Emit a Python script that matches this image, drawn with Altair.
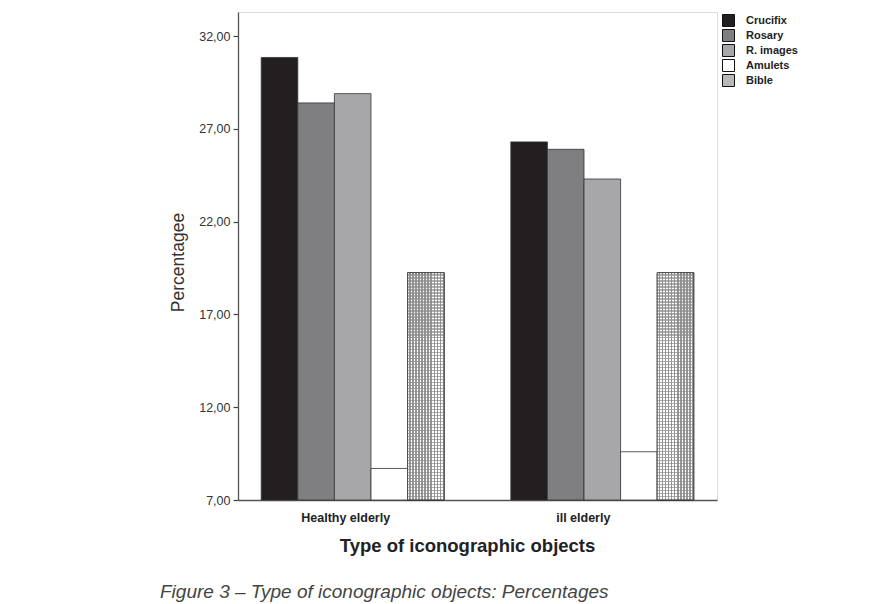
import altair as alt
import pandas as pd

groups = ["Healthy elderly", "ill elderly"]
objects = ["Crucifix", "Rosary", "R. images", "Amulets", "Bible"]
healthy = [30.85, 28.4, 28.9, 8.7, 19.25]
ill = [26.3, 25.9, 24.3, 9.6, 19.25]
y_ticks = [7, 12, 17, 22, 27, 32]

rows = []
for g, vals in zip(groups, [healthy, ill]):
    for o, v in zip(objects, vals):
        rows.append({"group": g, "object": o, "value": v})
df = pd.DataFrame(rows)

colors = ["#231f20", "#7f7f81", "#a7a7a9", "#ffffff", "#b8b8b8"]


def stripes(n, a, b, horizontal):
    stops = []
    for i in range(n):
        o0 = i / n
        o1 = (i + 0.5) / n
        o2 = (i + 1) / n
        stops += [
            {"offset": o0, "color": a},
            {"offset": o1, "color": a},
            {"offset": o1, "color": b},
            {"offset": o2, "color": b},
        ]
    g = {"gradient": "linear", "stops": stops}
    if horizontal:
        g.update({"x1": 0, "x2": 1, "y1": 0, "y2": 0})
    else:
        g.update({"x1": 0, "x2": 0, "y1": 0, "y2": 1})
    return g


x_enc = alt.X(
    "group:N",
    sort=groups,
    scale=alt.Scale(paddingInner=0.267, paddingOuter=0.093),
    axis=alt.Axis(
        title="Type  of iconographic objects",
        labelAngle=0,
        labelFont="Liberation Sans",
        labelFontSize=12.5,
        labelFontWeight="bold",
        labelColor="#222",
        labelPadding=11,
        labelOffset={"condition": {"test": "datum.value == 'ill elderly'", "value": -19}, "value": -7},
        ticks=False,
        domainColor="#555",
        domainWidth=1.3,
        titleFont="Liberation Sans",
        titleFontSize=18.5,
        titleFontWeight="bold",
        titleColor="#222",
        titleX=229,
        titleY=45,
        titleBaseline="middle",
    ),
)
xoff = alt.XOffset(
    "object:N", sort=objects, scale=alt.Scale(domain=objects, paddingInner=0, paddingOuter=0)
)
y_enc = alt.Y(
    "value:Q",
    scale=alt.Scale(domain=[7, 33.3], nice=False, zero=False),
    axis=alt.Axis(
        title="Percentagee",
        values=y_ticks,
        labelExpr="replace(format(datum.value, '.2f'), '.', ',')",
        labelFont="Liberation Sans",
        labelFontSize=12.5,
        labelColor="#333",
        tickSize=5,
        tickColor="#444",
        tickWidth=1.2,
        labelPadding=3,
        domainColor="#555",
        domainWidth=1.3,
        grid=False,
        titleFont="Liberation Sans",
        titleFontSize=17.5,
        titleFontWeight="normal",
        titleColor="#333",
        titleX=-60,
        titleY=250,
        titleBaseline="middle",
        titleAlign="center",
    ),
)

base = alt.Chart(df).mark_bar(stroke="#333", strokeWidth=0.8).encode(
    x=x_enc,
    xOffset=xoff,
    y=y_enc,
    y2=alt.datum(7),
    color=alt.Color(
        "object:N",
        sort=objects,
        scale=alt.Scale(domain=objects, range=colors),
        legend=alt.Legend(
            title=None,
            orient="none",
            legendX=484,
            legendY=2,
            symbolType="square",
            symbolSize=144,
            symbolStrokeColor="#111",
            symbolStrokeWidth=1,
            labelFont="Liberation Sans",
            labelFontSize=11,
            labelFontWeight="bold",
            labelColor="#222",
            labelOffset=11,
            rowPadding=-2,
        ),
    ),
)

bible = df[df["object"] == "Bible"]
over1 = alt.Chart(bible).mark_bar(
    fill=stripes(12, "#ffffff", "#959595", True), strokeWidth=0
).encode(x=alt.X("group:N", sort=groups), xOffset=xoff, y="value:Q", y2=alt.datum(7))
over2 = alt.Chart(bible).mark_bar(
    fill=stripes(76, "rgba(255,255,255,0)", "rgba(140,140,140,0.7)", False),
    stroke="#333",
    strokeWidth=0.8,
).encode(x=alt.X("group:N", sort=groups), xOffset=xoff, y="value:Q", y2=alt.datum(7))

chart = (
    alt.layer(base, over1, over2)
    .properties(
        width=479,
        height=488,
        autosize=alt.AutoSizeParams(type="none"),
        padding={"left": 230, "top": 4, "right": 167, "bottom": 110},
        title=alt.TitleParams(
            "Figure 3 – Type of iconographic objects: Percentages",
            orient="bottom",
            anchor="start",
            dx=-9,
            offset=28,
            font="Liberation Sans",
            fontSize=19,
            fontStyle="italic",
            fontWeight="normal",
            color="#444",
        ),
    )
    .configure_view(stroke="#777", strokeWidth=1.2)
    .configure(background="white")
)

chart.save("out.html", embed_options={"renderer": "svg", "actions": False})
